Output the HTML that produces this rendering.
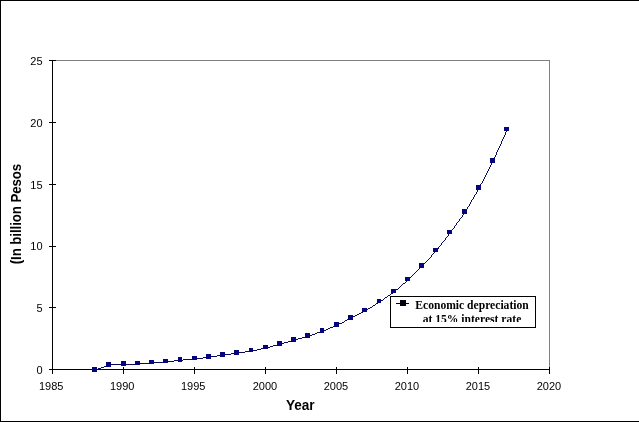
<!DOCTYPE html>
<html>
<head>
<meta charset="utf-8">
<title>Chart</title>
<style>
html,body{margin:0;padding:0;background:#fff;}
body{width:639px;height:422px;overflow:hidden;position:relative;font-family:"Liberation Sans",sans-serif;}
#frame{position:absolute;left:0;top:0;width:639px;height:422px;box-sizing:border-box;border-top:1px solid #000;border-left:1px solid #000;border-bottom:1px solid #000;}
svg{position:absolute;left:0;top:0;will-change:transform;}
svg text{font-family:"Liberation Sans",sans-serif;fill:#000;}
.tick text{font-size:11px;}
.leg{position:absolute;left:390px;top:296px;width:146px;height:32px;box-sizing:border-box;border:1px solid #000;background:#fff;overflow:hidden;}
.legtxt{position:absolute;left:20px;top:0;width:122px;height:25px;padding-top:2px;box-sizing:border-box;overflow:hidden;text-align:center;font-family:"Liberation Serif",serif;font-weight:bold;font-size:11.6px;line-height:14px;color:#000;white-space:nowrap;}
.legtxt span{display:block;}
</style>
</head>
<body>
<div id="frame"></div>
<svg width="639" height="422" viewBox="0 0 639 422">
<g shape-rendering="crispEdges">
<!-- plot area border (gray top and right) -->
<rect x="52" y="60" width="498" height="1" fill="#808080"/>
<rect x="549" y="60" width="1" height="310" fill="#808080"/>
<!-- axes -->
<rect x="52" y="60" width="1" height="314" fill="#000"/>
<rect x="49" y="369" width="501" height="1" fill="#000"/>
<g fill="#000">
<rect x="49" y="60" width="7" height="1"/>
<rect x="49" y="122" width="7" height="1"/>
<rect x="49" y="184" width="7" height="1"/>
<rect x="49" y="246" width="7" height="1"/>
<rect x="49" y="307" width="7" height="1"/>
<rect x="49" y="369" width="7" height="1"/>
<rect x="52" y="367" width="1" height="7"/>
<rect x="123" y="367" width="1" height="7"/>
<rect x="194" y="367" width="1" height="7"/>
<rect x="265" y="367" width="1" height="7"/>
<rect x="336" y="367" width="1" height="7"/>
<rect x="407" y="367" width="1" height="7"/>
<rect x="478" y="367" width="1" height="7"/>
<rect x="549" y="367" width="1" height="7"/>
</g>
<g fill="#0a0a5a"><rect x="95" y="370" width="1" height="1"/><rect x="96" y="369" width="2" height="1"/><rect x="98" y="368" width="3" height="1"/><rect x="101" y="367" width="3" height="1"/><rect x="104" y="366" width="2" height="1"/><rect x="106" y="365" width="4" height="1"/><rect x="110" y="364" width="29" height="1"/><rect x="138" y="363" width="15" height="1"/><rect x="152" y="362" width="15" height="1"/><rect x="166" y="361" width="8" height="1"/><rect x="174" y="360" width="9" height="1"/><rect x="183" y="359" width="13" height="1"/><rect x="195" y="358" width="8" height="1"/><rect x="203" y="357" width="7" height="1"/><rect x="210" y="356" width="7" height="1"/><rect x="217" y="355" width="7" height="1"/><rect x="224" y="354" width="7" height="1"/><rect x="231" y="353" width="7" height="1"/><rect x="238" y="352" width="7" height="1"/><rect x="245" y="351" width="7" height="1"/><rect x="252" y="350" width="5" height="1"/><rect x="257" y="349" width="4" height="1"/><rect x="261" y="348" width="6" height="1"/><rect x="266" y="347" width="4" height="1"/><rect x="270" y="346" width="3" height="1"/><rect x="273" y="345" width="4" height="1"/><rect x="277" y="344" width="4" height="1"/><rect x="281" y="343" width="3" height="1"/><rect x="284" y="342" width="4" height="1"/><rect x="288" y="341" width="3" height="1"/><rect x="291" y="340" width="4" height="1"/><rect x="295" y="339" width="3" height="1"/><rect x="298" y="338" width="4" height="1"/><rect x="302" y="337" width="3" height="1"/><rect x="305" y="336" width="4" height="1"/><rect x="309" y="335" width="3" height="1"/><rect x="312" y="334" width="3" height="1"/><rect x="315" y="333" width="2" height="1"/><rect x="317" y="332" width="3" height="1"/><rect x="320" y="331" width="3" height="1"/><rect x="323" y="330" width="3" height="1"/><rect x="326" y="329" width="2" height="1"/><rect x="328" y="328" width="2" height="1"/><rect x="330" y="327" width="3" height="1"/><rect x="333" y="326" width="2" height="1"/><rect x="335" y="325" width="3" height="1"/><rect x="337" y="324" width="2" height="1"/><rect x="339" y="323" width="3" height="1"/><rect x="342" y="322" width="2" height="1"/><rect x="344" y="321" width="1" height="1"/><rect x="345" y="320" width="2" height="1"/><rect x="347" y="319" width="2" height="1"/><rect x="349" y="318" width="3" height="1"/><rect x="351" y="317" width="2" height="1"/><rect x="353" y="316" width="2" height="1"/><rect x="355" y="315" width="2" height="1"/><rect x="357" y="314" width="2" height="1"/><rect x="359" y="313" width="2" height="1"/><rect x="361" y="312" width="2" height="1"/><rect x="363" y="311" width="3" height="1"/><rect x="365" y="310" width="2" height="1"/><rect x="367" y="309" width="1" height="1"/><rect x="368" y="308" width="2" height="1"/><rect x="370" y="307" width="2" height="1"/><rect x="372" y="306" width="1" height="1"/><rect x="373" y="305" width="2" height="1"/><rect x="375" y="304" width="1" height="1"/><rect x="376" y="303" width="2" height="1"/><rect x="378" y="302" width="2" height="1"/><rect x="380" y="301" width="1" height="1"/><rect x="381" y="300" width="2" height="1"/><rect x="383" y="299" width="1" height="1"/><rect x="384" y="298" width="1" height="1"/><rect x="385" y="297" width="2" height="1"/><rect x="387" y="296" width="1" height="1"/><rect x="388" y="295" width="2" height="1"/><rect x="390" y="294" width="1" height="1"/><rect x="391" y="293" width="2" height="1"/><rect x="393" y="292" width="2" height="1"/><rect x="394" y="291" width="1" height="1"/><rect x="395" y="290" width="1" height="1"/><rect x="396" y="289" width="2" height="1"/><rect x="398" y="288" width="1" height="1"/><rect x="399" y="287" width="1" height="1"/><rect x="400" y="286" width="1" height="1"/><rect x="401" y="285" width="1" height="1"/><rect x="402" y="284" width="1" height="1"/><rect x="403" y="283" width="2" height="1"/><rect x="405" y="282" width="1" height="1"/><rect x="406" y="281" width="1" height="1"/><rect x="407" y="280" width="2" height="1"/><rect x="408" y="279" width="1" height="1"/><rect x="409" y="278" width="1" height="1"/><rect x="410" y="277" width="1" height="1"/><rect x="411" y="276" width="1" height="1"/><rect x="412" y="275" width="1" height="1"/><rect x="413" y="274" width="1" height="1"/><rect x="414" y="273" width="1" height="1"/><rect x="415" y="272" width="1" height="1"/><rect x="416" y="271" width="1" height="1"/><rect x="417" y="270" width="1" height="1"/><rect x="418" y="269" width="1" height="1"/><rect x="419" y="268" width="1" height="1"/><rect x="420" y="267" width="1" height="1"/><rect x="421" y="266" width="2" height="1"/><rect x="422" y="265" width="1" height="1"/><rect x="423" y="264" width="1" height="1"/><rect x="424" y="263" width="1" height="1"/><rect x="425" y="262" width="1" height="1"/><rect x="426" y="261" width="1" height="1"/><rect x="427" y="260" width="1" height="1"/><rect x="428" y="259" width="1" height="1"/><rect x="429" y="258" width="1" height="1"/><rect x="430" y="257" width="1" height="1"/><rect x="431" y="255" width="1" height="2"/><rect x="432" y="254" width="1" height="1"/><rect x="433" y="253" width="1" height="1"/><rect x="434" y="252" width="1" height="1"/><rect x="435" y="251" width="2" height="1"/><rect x="436" y="250" width="1" height="1"/><rect x="437" y="249" width="1" height="1"/><rect x="438" y="247" width="1" height="2"/><rect x="439" y="246" width="1" height="1"/><rect x="440" y="245" width="1" height="1"/><rect x="441" y="243" width="1" height="2"/><rect x="442" y="242" width="1" height="1"/><rect x="443" y="241" width="1" height="1"/><rect x="444" y="240" width="1" height="1"/><rect x="445" y="238" width="1" height="2"/><rect x="446" y="237" width="1" height="1"/><rect x="447" y="236" width="1" height="1"/><rect x="448" y="234" width="1" height="2"/><rect x="449" y="233" width="2" height="1"/><rect x="450" y="232" width="1" height="1"/><rect x="451" y="230" width="1" height="2"/><rect x="452" y="229" width="1" height="1"/><rect x="453" y="228" width="1" height="1"/><rect x="454" y="226" width="1" height="2"/><rect x="455" y="225" width="1" height="1"/><rect x="456" y="223" width="1" height="2"/><rect x="457" y="222" width="1" height="1"/><rect x="458" y="221" width="1" height="1"/><rect x="459" y="219" width="1" height="2"/><rect x="460" y="218" width="1" height="1"/><rect x="461" y="217" width="1" height="1"/><rect x="462" y="215" width="1" height="2"/><rect x="463" y="214" width="1" height="1"/><rect x="464" y="212" width="2" height="1"/><rect x="464" y="213" width="1" height="1"/><rect x="465" y="211" width="1" height="1"/><rect x="466" y="209" width="1" height="2"/><rect x="467" y="207" width="1" height="2"/><rect x="468" y="206" width="1" height="1"/><rect x="469" y="204" width="1" height="2"/><rect x="470" y="202" width="1" height="2"/><rect x="471" y="200" width="1" height="2"/><rect x="472" y="199" width="1" height="1"/><rect x="473" y="197" width="1" height="2"/><rect x="474" y="195" width="1" height="2"/><rect x="475" y="194" width="1" height="1"/><rect x="476" y="192" width="1" height="2"/><rect x="477" y="190" width="1" height="2"/><rect x="478" y="188" width="2" height="1"/><rect x="478" y="189" width="1" height="1"/><rect x="479" y="186" width="1" height="2"/><rect x="480" y="184" width="1" height="2"/><rect x="481" y="183" width="1" height="1"/><rect x="482" y="181" width="1" height="2"/><rect x="483" y="179" width="1" height="2"/><rect x="484" y="177" width="1" height="2"/><rect x="485" y="175" width="1" height="2"/><rect x="486" y="173" width="1" height="2"/><rect x="487" y="171" width="1" height="2"/><rect x="488" y="169" width="1" height="2"/><rect x="489" y="167" width="1" height="2"/><rect x="490" y="165" width="1" height="2"/><rect x="491" y="163" width="1" height="2"/><rect x="492" y="161" width="2" height="1"/><rect x="492" y="162" width="1" height="1"/><rect x="493" y="159" width="1" height="2"/><rect x="494" y="157" width="1" height="2"/><rect x="495" y="155" width="1" height="2"/><rect x="496" y="152" width="1" height="3"/><rect x="497" y="150" width="1" height="2"/><rect x="498" y="148" width="1" height="2"/><rect x="499" y="146" width="1" height="2"/><rect x="500" y="144" width="1" height="2"/><rect x="501" y="141" width="1" height="3"/><rect x="502" y="139" width="1" height="2"/><rect x="503" y="137" width="1" height="2"/><rect x="504" y="135" width="1" height="2"/><rect x="505" y="132" width="1" height="3"/><rect x="506" y="130" width="1" height="2"/></g>
<g fill="#04047c">
<rect x="92" y="367" width="5" height="5"/>
<rect x="106" y="362" width="5" height="5"/>
<rect x="121" y="361" width="5" height="5"/>
<rect x="135" y="361" width="5" height="4"/>
<rect x="149" y="360" width="5" height="4"/>
<rect x="163" y="359" width="5" height="4"/>
<rect x="178" y="357" width="4" height="5"/>
<rect x="192" y="356" width="5" height="4"/>
<rect x="206" y="354" width="5" height="5"/>
<rect x="220" y="352" width="5" height="5"/>
<rect x="234" y="350" width="5" height="5"/>
<rect x="249" y="348" width="4" height="4"/>
<rect x="263" y="345" width="5" height="4"/>
<rect x="277" y="341" width="5" height="5"/>
<rect x="291" y="337" width="5" height="5"/>
<rect x="305" y="333" width="5" height="5"/>
<rect x="320" y="328" width="4" height="5"/>
<rect x="334" y="322" width="5" height="5"/>
<rect x="348" y="315" width="5" height="5"/>
<rect x="362" y="308" width="5" height="4"/>
<rect x="377" y="299" width="4" height="4"/>
<rect x="391" y="289" width="5" height="4"/>
<rect x="405" y="277" width="5" height="4"/>
<rect x="419" y="263" width="5" height="5"/>
<rect x="433" y="248" width="5" height="4"/>
<rect x="447" y="230" width="5" height="4"/>
<rect x="462" y="209" width="5" height="5"/>
<rect x="476" y="185" width="5" height="5"/>
<rect x="490" y="158" width="5" height="5"/>
<rect x="504" y="127" width="5" height="4"/>
</g>
</g>
<g class="tick">
<text x="42.6" y="65" text-anchor="end">25</text>
<text x="42.6" y="127" text-anchor="end">20</text>
<text x="42.6" y="189" text-anchor="end">15</text>
<text x="42.6" y="250" text-anchor="end">10</text>
<text x="42.6" y="312" text-anchor="end">5</text>
<text x="42.6" y="374" text-anchor="end">0</text>
<text x="51.2" y="390" text-anchor="middle">1985</text>
<text x="122.2" y="390" text-anchor="middle">1990</text>
<text x="193.2" y="390" text-anchor="middle">1995</text>
<text x="265.0" y="390" text-anchor="middle">2000</text>
<text x="336.0" y="390" text-anchor="middle">2005</text>
<text x="407.0" y="390" text-anchor="middle">2010</text>
<text x="478.0" y="390" text-anchor="middle">2015</text>
<text x="549.0" y="390" text-anchor="middle">2020</text>
</g>
<text transform="translate(300.3,410) scale(1.02,1.07)" text-anchor="middle" font-size="13.33" font-weight="bold">Year</text>
<text transform="translate(21,214) rotate(-90) scale(1,1.07)" text-anchor="middle" font-size="13.33" font-weight="bold" textLength="100.5" lengthAdjust="spacing">(In billion Pesos</text>
</svg>
<div class="leg">
<svg width="146" height="32" style="left:-1px;top:-1px" shape-rendering="crispEdges"><rect x="6" y="7" width="13" height="1" fill="#000"/><rect x="10" y="4" width="6" height="6" fill="#000010"/></svg>
<div class="legtxt"><span>Economic depreciation</span><span>at 15% interest rate</span></div>
</div>
</body>
</html>
